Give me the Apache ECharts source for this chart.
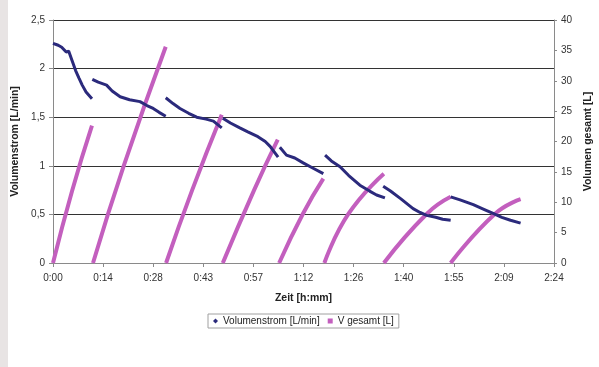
<!DOCTYPE html>
<html>
<head>
<meta charset="utf-8">
<script src="https://cdn.jsdelivr.net/npm/echarts@6/dist/echarts.min.js"></script>
<style>
  html, body { margin: 0; padding: 0; background: #ffffff; }
  #chart { width: 599px; height: 367px; }
</style>
</head>
<body>
<div id="chart"></div>
<script>
// Flow rate per filling run: [minutes, L/min]
const flowRun1 = [[0,2.26],[0.5,2.28],[1.5,2.24],[2.5,2.22],[3.8,2.17],[4.5,2.18],[5.5,2.08],[6.5,1.98],[7.5,1.90],[8.4,1.83],[9.5,1.76],[11.2,1.69]];
const flowRun2 = [[11.3,1.89],[13,1.86],[15.4,1.83],[17,1.77],[19.3,1.71],[22,1.68],[25,1.66],[27,1.62],[28.8,1.59],[30.5,1.55],[32.4,1.51]];
const flowRun3 = [[32.4,1.70],[34.5,1.64],[36.5,1.59],[39,1.54],[41.3,1.50],[44,1.48],[46.1,1.46],[48.5,1.39]];
const flowRun4 = [[48.8,1.49],[51,1.44],[53.7,1.39],[56,1.35],[58.9,1.30],[61,1.25],[62.4,1.20],[64.7,1.09]];
const flowRun5 = [[65.2,1.19],[67.1,1.11],[69.5,1.08],[71.9,1.03],[74.5,0.98],[77.7,0.92]];
const flowRun6 = [[78.2,1.11],[80,1.05],[82.5,0.99],[85,0.90],[88.2,0.80],[91,0.74],[93,0.70],[95.4,0.67]];
const flowRun7 = [[94.9,0.79],[97,0.74],[100,0.66],[103.5,0.56],[105.5,0.52],[107.4,0.49],[110,0.47],[112,0.45],[114.3,0.44]];
const flowRun8 = [[114.3,0.68],[117,0.65],[120.8,0.60],[124,0.55],[126.5,0.51],[129,0.47],[131.5,0.44],[134.4,0.41]];

// Accumulated volume per filling run: [minutes, litres]
const volRun1 = [[0,0],[5.5,11.9],[11.2,22.6]];
const volRun2 = [[11.5,0],[20.4,16.1],[32.4,35.6]];
const volRun3 = [[32.5,0],[40.0,12.0],[48.5,24.4]];
const volRun4 = [[48.8,0],[57.8,12.0],[64.6,20.3]];
const volRun5 = [[65.0,0],[71.8,8.07],[77.7,13.9]];
const volRun6 = [[78.0,0],[84.9,8.07],[95.1,14.7]];
const volRun7 = [[95.1,0],[107.4,8.07],[114.3,10.9]];
const volRun8 = [[114.3,0],[127.0,8.07],[134.4,10.5]];

const flowRuns = [flowRun1, flowRun2, flowRun3, flowRun4, flowRun5, flowRun6, flowRun7, flowRun8];
const volRuns = [volRun1, volRun2, volRun3, volRun4, volRun5, volRun6, volRun7, volRun8];

const FLOW_NAME = 'Volumenstrom [L/min]';
const VOL_NAME = 'V gesamt [L]';
const FLOW_COLOR = '#2b2a7c';
const VOL_COLOR = '#c35fbe';
const FONT = 'Liberation Sans, Arial, sans-serif';

// minutes -> h:mm
function hmm(v) {
  const m = Math.floor(v + 1e-6);
  const h = Math.floor(m / 60);
  const mm = m % 60;
  return h + ':' + (mm < 10 ? '0' : '') + mm;
}

const series = [];
volRuns.forEach(run => series.push({
  name: VOL_NAME, type: 'line', yAxisIndex: 1, data: run,
  showSymbol: false, smooth: 0.5, silent: true,
  lineStyle: { color: VOL_COLOR, width: 4 }, itemStyle: { color: VOL_COLOR }, z: 2
}));
flowRuns.forEach(run => series.push({
  name: FLOW_NAME, type: 'line', yAxisIndex: 0, data: run,
  showSymbol: false, silent: true,
  lineStyle: { color: FLOW_COLOR, width: 3 }, itemStyle: { color: FLOW_COLOR }, z: 3
}));

const chart = echarts.init(document.getElementById('chart'), null, { renderer: 'canvas' });
chart.setOption({
  animation: false,
  backgroundColor: '#ffffff',
  textStyle: { fontFamily: FONT },
  graphic: [{
    type: 'rect', left: 0, top: 0, z: -10,
    shape: { width: 8, height: 367 },
    style: { fill: '#e8e4e4' }
  }],
  grid: { left: 53, right: 45, top: 20, bottom: 104, containLabel: false, outerBoundsMode: 'none' },
  legend: {
    left: 208, top: 314,
    padding: [2, 5, 2, 5],
    borderColor: '#a0a0a0', borderWidth: 1,
    itemWidth: 5, itemHeight: 5, itemGap: 8,
    textStyle: { fontSize: 10, color: '#222', fontFamily: FONT },
    data: [
      { name: FLOW_NAME, icon: 'diamond', itemStyle: { color: FLOW_COLOR } },
      { name: VOL_NAME, icon: 'rect', itemStyle: { color: VOL_COLOR } }
    ]
  },
  xAxis: {
    type: 'value', min: 0, max: 144, interval: 14.4,
    name: 'Zeit [h:mm]', nameLocation: 'middle', nameGap: 30,
    nameTextStyle: { fontSize: 10.5, fontWeight: 'bold', color: '#222' },
    axisLine: { lineStyle: { color: '#8a8a8a', width: 1 } },
    axisTick: { show: true, length: 4, lineStyle: { color: '#8a8a8a' } },
    axisLabel: { fontSize: 10, color: '#333', margin: 10, formatter: hmm },
    splitLine: { show: false }
  },
  yAxis: [{
    type: 'value', min: 0, max: 2.5, interval: 0.5, position: 'left',
    name: 'Volumenstrom [L/min]', nameLocation: 'middle', nameGap: 31, nameRotate: 90,
    nameTextStyle: { fontSize: 10.5, fontWeight: 'bold', color: '#222' },
    axisLine: { show: true, lineStyle: { color: '#8a8a8a', width: 1 } },
    axisTick: { show: true, length: 4, lineStyle: { color: '#8a8a8a' } },
    axisLabel: { fontSize: 10, color: '#333', margin: 8,
      formatter: v => String(v).replace('.', ',') },
    splitLine: { show: true, lineStyle: { color: '#333', width: 1.2 } }
  }, {
    type: 'value', min: 0, max: 40, interval: 5, position: 'right',
    name: 'Volumen gesamt [L]', nameLocation: 'middle', nameGap: 28, nameRotate: 90,
    nameTextStyle: { fontSize: 10.5, fontWeight: 'bold', color: '#222' },
    axisLine: { show: true, lineStyle: { color: '#8a8a8a', width: 1 } },
    axisTick: { show: true, length: 3, lineStyle: { color: '#8a8a8a' } },
    axisLabel: { fontSize: 10, color: '#333', margin: 7 },
    splitLine: { show: false }
  }],
  series: series
});
</script>
</body>
</html>
